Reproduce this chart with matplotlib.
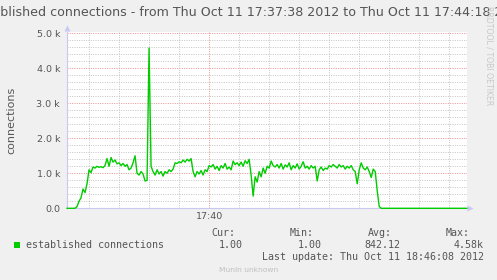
import matplotlib
matplotlib.use("Agg")
import matplotlib.pyplot as plt

# ====== Data (values in connections, one sample every 2 s from 17:37:38) ======

title = "established connections - from Thu Oct 11 17:37:38 2012 to Thu Oct 11 17:44:18 2012"
series_name = "established connections"

seconds = list(range(0, 316, 2)) + [400]
conns_k = [
    0, 0, 0, 0, 0, 0.05, 0.2, 0.3, 0.55, 0.45,
    0.7, 1.1, 1.02, 1.18, 1.15, 1.2, 1.17, 1.19, 1.16, 1.22,
    1.42, 1.2, 1.45, 1.32, 1.38, 1.27, 1.3, 1.22, 1.28, 1.2,
    1.25, 1.1, 1.15, 1.3, 1.5, 1.0, 0.95, 1.05, 0.98, 0.78,
    0.8, 4.58, 1.2, 1.05, 0.95, 1.1, 0.98, 1.05, 0.92, 1.05,
    1.0, 1.1, 1.05, 1.12, 1.3, 1.28, 1.33, 1.3, 1.38, 1.32,
    1.4, 1.35, 1.42, 1.05, 0.9, 1.05, 0.98, 1.08, 0.95, 1.1,
    1.05, 1.22, 1.18, 1.25, 1.12, 1.2, 1.08, 1.22, 1.15, 1.28,
    1.12, 1.18, 1.1, 1.35, 1.25, 1.3, 1.22, 1.32, 1.2, 1.36,
    1.28, 1.4, 0.95, 0.35, 0.9, 0.75, 1.05, 0.9, 1.15, 1.0,
    1.2, 1.15, 1.35, 1.22, 1.18, 1.25, 1.15, 1.28, 1.12, 1.24,
    1.18, 1.3, 1.1, 1.22, 1.15, 1.27, 1.12, 1.2, 1.33, 1.15,
    1.2, 1.12, 1.22, 1.15, 1.2, 0.78, 1.1, 1.18, 1.08, 1.15,
    1.12, 1.22, 1.18, 1.25, 1.2, 1.15, 1.25, 1.18, 1.22, 1.12,
    1.2, 1.15, 1.22, 1.1, 1.05, 0.7, 1.1, 1.3, 1.15, 1.1,
    1.18, 1.05, 0.88, 1.12, 1.05, 0.5, 0.05, 0,
    0,
]
conns = [v * 1000 for v in conns_k]

ytick_vals = [0, 1000, 2000, 3000, 4000, 5000]
ytick_labels = ["0.0", "1.0 k", "2.0 k", "3.0 k", "4.0 k", "5.0 k"]
minor_y = [200, 400, 600, 800, 1200, 1400, 1600, 1800, 2200, 2400, 2600, 2800,
           3200, 3400, 3600, 3800, 4200, 4400, 4600, 4800]
minor_x = [22, 52, 82, 112, 172, 202, 232, 262, 292, 322, 352, 382]
major_x = [142]
xtick_labels = ["17:40"]

stat_heads = ["Cur:", "Min:", "Avg:", "Max:"]
stat_vals = ["1.00", "1.00", "842.12", "4.58k"]
last_update = "Last update: Thu Oct 11 18:46:08 2012"

# ====== Plot ======

W, H = 497, 280
BG = "#f0f0f0"
GREEN = "#00cc00"
TXT = "#555555"


def fx(px):
    return px / W


def fy(py):
    return 1 - py / H


fig = plt.figure(figsize=(W / 100, H / 100), dpi=100, facecolor=BG)
left, right, top, bottom = 67, 467.3, 31.5, 208.3
ax = fig.add_axes([fx(left), fy(bottom), (right - left) / W, (bottom - top) / H])
ax.set_facecolor("white")
ax.set_xlim(0, 400)
ax.set_ylim(0, (bottom - top) / 35 * 1000)

dots = (0, (1, 1.4))
for y in minor_y:
    ax.axhline(y, color="#c4c4c4", lw=0.7, ls=dots, zorder=1)
for y in ytick_vals[1:]:
    ax.axhline(y, color="#e89090", lw=0.7, ls=dots, zorder=1)
for x in minor_x:
    ax.axvline(x, color="#c4c4c4", lw=0.7, ls=dots, zorder=1)
for x in major_x:
    ax.axvline(x, color="#e89090", lw=0.7, ls=dots, zorder=1)

ax.plot(seconds, conns, color=GREEN, lw=1.0, zorder=3, clip_on=False)

for s in ["top", "right"]:
    ax.spines[s].set_visible(False)
for s in ["left", "bottom"]:
    ax.spines[s].set_color("#c8c8f0")
    ax.spines[s].set_linewidth(0.8)

ax.set_yticks(ytick_vals, ytick_labels)
ax.set_xticks(major_x, xtick_labels)
ax.tick_params(axis="both", length=0, labelsize=6.8, colors=TXT)
ax.tick_params(axis="y", pad=5)
ax.tick_params(axis="x", pad=2.5)

# axis arrows
fig.add_artist(plt.Line2D([fx(67)], [fy(28)], marker="^", ms=4, color="#c8c8f0", mec="none"))
fig.add_artist(plt.Line2D([fx(470)], [fy(208.3)], marker=">", ms=4, color="#c8c8f0", mec="none"))

# title is wider than the image, as in the original
fig.text(fx(249.5), fy(13), title, ha="center", va="center", fontsize=9.1, color=TXT)
fig.text(fx(11), fy(120.5), "connections", rotation=90, ha="center", va="center",
         fontsize=8.0, color=TXT)
fig.text(fx(489), fy(56), "RRDTOOL / TOBI OETIKER", rotation=-90, ha="center", va="center",
         fontsize=5.6, color="#c8c8c8")

# legend
fig.add_artist(plt.Rectangle((fx(14), fy(248)), 6 / W, 6 / H, color=GREEN, lw=0))
mono = dict(family="DejaVu Sans Mono", fontsize=7.2, color=TXT, va="center")
fig.text(fx(26.5), fy(245.5), series_name, ha="left", **mono)
head_right = [235, 314, 392, 470]
val_right = [243, 322, 400, 484]
for h, v, hr, vr in zip(stat_heads, stat_vals, head_right, val_right):
    fig.text(fx(hr), fy(233.5), h, ha="right", **mono)
    fig.text(fx(vr), fy(245.5), v, ha="right", **mono)
fig.text(fx(484), fy(257.5), last_update, ha="right", **mono)
fig.text(fx(248.5), fy(269.5), "Munin unknown", ha="center", va="center",
         fontsize=5.4, color="#c0c0c0")

fig.savefig("out.png", dpi=100, facecolor=BG)
